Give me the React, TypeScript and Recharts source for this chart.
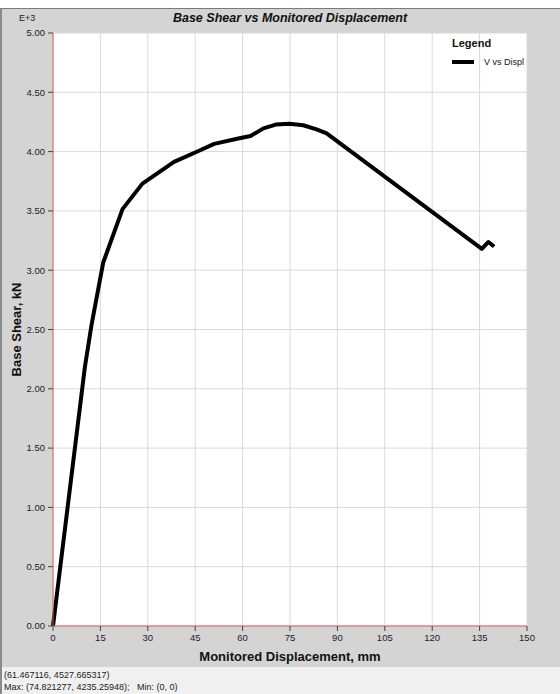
import React from 'react';
import {
    LineChart,
    Line,
    XAxis,
    YAxis,
    CartesianGrid,
    Legend,
} from 'recharts';

// displacement (mm) and base shear (kN)
const displ = [0, 10.1, 12.2, 15.9, 22.0, 28.3, 38.3, 45.5, 51.0, 59.0, 62.5, 66.6, 70.5, 74.8, 79.2, 83.4, 86.6, 135.7, 137.8, 139.6];
const shear = [0, 2186, 2540, 3065, 3515, 3730, 3913, 3999, 4065, 4112, 4131, 4196, 4228, 4235, 4222, 4188, 4154, 3180, 3238, 3200];

const xTicks = [0, 15, 30, 45, 60, 75, 90, 105, 120, 135, 150];
const yTicks = [0, 500, 1000, 1500, 2000, 2500, 3000, 3500, 4000, 4500, 5000];

const seriesName = 'V vs Displ';
const cursorText = '(61.467116, 4527.665317)';
const maxMinText = 'Max: (74.821277, 4235.25948);   Min: (0, 0)';

const data = displ.map((d, i) => ({ d, v: shear[i] }));

const FONT = '"Liberation Sans", Arial, sans-serif';

const LegendBox = () => (
    <div style={{ fontFamily: FONT, color: '#111' }}>
        <div style={{ fontWeight: 'bold', fontSize: 11, marginBottom: 8 }}>Legend</div>
        <div style={{ display: 'flex', alignItems: 'center' }}>
            <div style={{ width: 22, height: 4, background: '#000', marginRight: 10 }} />
            <span style={{ fontSize: 9 }}>{seriesName}</span>
        </div>
    </div>
);

export default function App() {
    return (
        <div style={{ position: 'absolute', top: 0, left: 0, width: 560, height: 694, background: '#fff', overflow: 'hidden' }}>
            <div
                style={{
                    position: 'absolute',
                    top: 8,
                    left: 0,
                    width: 560,
                    height: 686,
                    background: '#d4d4d4',
                    borderTop: '1px solid #7a7a7a',
                    borderLeft: '2px solid #8a8a8a',
                    boxSizing: 'border-box',
                }}
            />
            <div
                style={{
                    position: 'absolute',
                    top: 11,
                    left: 0,
                    width: 580,
                    textAlign: 'center',
                    fontFamily: FONT,
                    fontWeight: 'bold',
                    fontStyle: 'italic',
                    fontSize: 12.5,
                    color: '#111',
                }}
            >
                Base Shear vs Monitored Displacement
            </div>
            <div style={{ position: 'absolute', top: 13, left: 19, fontFamily: FONT, fontSize: 9, color: '#222' }}>E+3</div>
            <div style={{ position: 'absolute', top: 0, left: 0 }}>
                <LineChart width={560} height={667} data={data} margin={{ top: 33, right: 33, left: 8, bottom: 0 }}>
                    <CartesianGrid fill="#fff" stroke="#d9d9d9" />
                    <XAxis
                        type="number"
                        dataKey="d"
                        domain={[0, 150]}
                        ticks={xTicks}
                        height={41}
                        tickSize={5}
                        tickMargin={3}
                        axisLine={{ stroke: '#d65c5c' }}
                        tickLine={{ stroke: '#444' }}
                        tick={{ fontSize: 9.5, fill: '#222', fontFamily: FONT }}
                        label={{
                            value: 'Monitored Displacement, mm',
                            position: 'insideBottom',
                            offset: 6,
                            style: { fontSize: 13, fontWeight: 'bold', fill: '#111', fontFamily: FONT },
                        }}
                    />
                    <YAxis
                        type="number"
                        dataKey="v"
                        domain={[0, 5000]}
                        ticks={yTicks}
                        width={45}
                        tickSize={5}
                        tickMargin={3}
                        interval={0}
                        tickFormatter={(v: number) => (v / 1000).toFixed(2)}
                        axisLine={{ stroke: '#d65c5c' }}
                        tickLine={{ stroke: '#444' }}
                        tick={{ fontSize: 9.5, fill: '#222', fontFamily: FONT }}
                        label={{
                            value: 'Base Shear, kN',
                            angle: -90,
                            position: 'insideLeft',
                            offset: 8,
                            style: { textAnchor: 'middle', fontSize: 13, fontWeight: 'bold', fill: '#111', fontFamily: FONT },
                        }}
                    />
                    <Legend
                        layout="vertical"
                        align="center"
                        verticalAlign="middle"
                        content={() => <LegendBox />}
                        wrapperStyle={{ top: 37, left: 452, width: 80 }}
                    />
                    <Line
                        type="linear"
                        dataKey="v"
                        name={seriesName}
                        stroke="#000"
                        strokeWidth={4}
                        strokeLinejoin="round"
                        dot={false}
                        activeDot={false}
                        isAnimationActive={false}
                    />
                </LineChart>
            </div>
            <div
                style={{
                    position: 'absolute',
                    top: 667,
                    left: 2,
                    width: 558,
                    height: 27,
                    background: '#f0f0f0',
                    fontFamily: FONT,
                    fontSize: 9,
                    color: '#222',
                    lineHeight: '12px',
                    paddingLeft: 2,
                    paddingTop: 2,
                    boxSizing: 'border-box',
                    whiteSpace: 'pre',
                }}
            >
                <div>{cursorText}</div>
                <div>{maxMinText}</div>
            </div>
        </div>
    );
}
